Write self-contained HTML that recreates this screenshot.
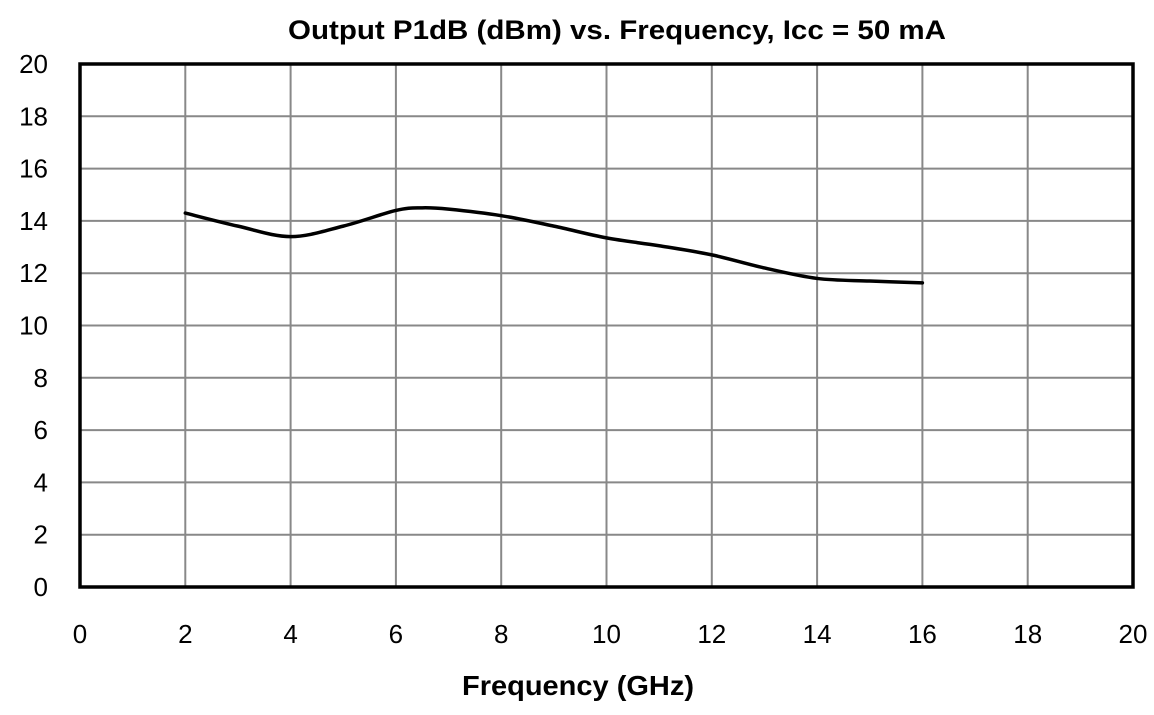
<!DOCTYPE html>
<html><head><meta charset="utf-8"><style>
html,body{margin:0;padding:0;background:#fff;}
svg{display:block;font-family:"Liberation Sans",Arial,sans-serif;}
</style></head><body>
<svg id="chart" width="1154" height="715">
<text x="617" y="39" text-anchor="middle" font-size="27" font-weight="bold" textLength="658" lengthAdjust="spacingAndGlyphs">Output P1dB (dBm) vs. Frequency, Icc = 50 mA</text>
<text x="578" y="695" text-anchor="middle" font-size="28" font-weight="bold" textLength="232" lengthAdjust="spacingAndGlyphs">Frequency (GHz)</text>
<g id="grid"></g><g id="ticks"></g><g id="series"></g>
</svg>
<script>
const xTicks=[0,2,4,6,8,10,12,14,16,18,20];
const yTicks=[0,2,4,6,8,10,12,14,16,18,20];
const freq=[2,3,4,5,6,6.5,7,8,9,10,11,12,13,14,15,16];
const p1db=[14.3,13.8,13.4,13.8,14.4,14.5,14.45,14.2,13.8,13.35,13.05,12.7,12.2,11.8,11.7,11.63];
const L=80,R=1133,T=64,B=587;
const sx=v=>L+(v-0)/20*(R-L), sy=v=>B-(v-0)/20*(B-T);
const NS="http://www.w3.org/2000/svg";
const grid=document.getElementById('grid'),ticks=document.getElementById('ticks'),series=document.getElementById('series');
function mk(tag,attrs,parent){const e=document.createElementNS(NS,tag);for(const k in attrs)e.setAttribute(k,attrs[k]);parent.appendChild(e);return e;}
xTicks.forEach(v=>{
 if(v>0&&v<20){const l=mk('line',{x1:sx(v),x2:sx(v),y1:T,y2:B,stroke:'#888','stroke-width':2},grid);
 
 }
 const t=mk('text',{x:sx(v),y:643,'text-anchor':'middle','font-size':26},ticks);t.textContent=v;
 
 
});
yTicks.forEach(v=>{
 if(v>0&&v<20){const l=mk('line',{x1:L,x2:R,y1:sy(v),y2:sy(v),stroke:'#888','stroke-width':2},grid);
 
 }
 const t=mk('text',{x:48,y:sy(v)+9,'text-anchor':'end','font-size':26},ticks);t.textContent=v;
 
 
});
const fr=mk('rect',{x:L,y:T,width:R-L,height:B-T,fill:'none',stroke:'#000','stroke-width':3.5},grid);


const pts=freq.map((f,i)=>[sx(f),sy(p1db[i])]);
let d='M'+pts[0][0]+','+pts[0][1];
for(let i=0;i<pts.length-1;i++){
 const p0=pts[Math.max(0,i-1)],p1=pts[i],p2=pts[i+1],p3=pts[Math.min(pts.length-1,i+2)];
 const c1=[p1[0]+(p2[0]-p0[0])/6,p1[1]+(p2[1]-p0[1])/6],c2=[p2[0]-(p3[0]-p1[0])/6,p2[1]-(p3[1]-p1[1])/6];
 d+=' C'+c1+' '+c2+' '+p2;
}
const path=mk('path',{d:d,fill:'none',stroke:'#000','stroke-width':3.5,'stroke-linecap':'round'},series);


</script>
</body></html>
